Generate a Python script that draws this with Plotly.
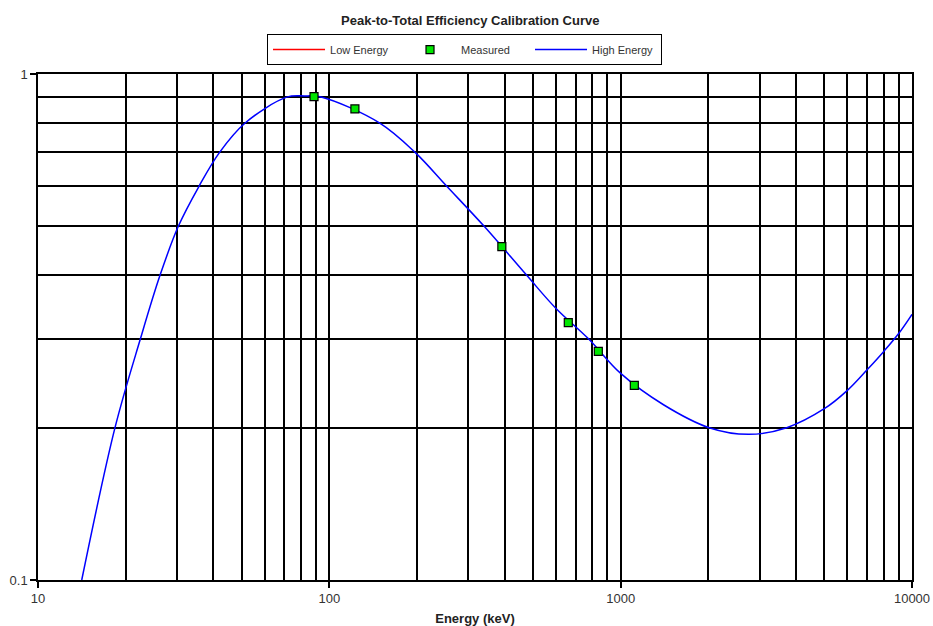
import plotly.graph_objects as go

# High-energy calibration curve (keV, peak-to-total efficiency)
curve_energy = [14.13, 18.38, 22.48, 26.23, 30.31, 35.7, 42.0, 51.4, 71.4, 82, 94.4,
                149, 197, 253, 340, 476, 600, 774, 1000, 1403, 2012, 2750, 3715,
                5000, 6000, 7000, 8000, 9000, 10000]
curve_eff = [0.100, 0.200, 0.300, 0.400, 0.500, 0.600, 0.700, 0.800, 0.900, 0.905, 0.900,
             0.800, 0.700, 0.600, 0.500, 0.400, 0.344, 0.300, 0.256, 0.222, 0.200, 0.194,
             0.200, 0.218, 0.237, 0.260, 0.283, 0.307, 0.335]

# Measured points
meas_energy = [88.6, 122.4, 391, 661, 838, 1114]
meas_eff = [0.902, 0.853, 0.456, 0.3225, 0.283, 0.2425]

x_major = [10, 100, 1000, 10000]
x_major_text = ["10", "100", "1000", "10000"]
y_major = [0.1, 1]
y_major_text = ["0.1", "1"]
x_minor = [m * d for d in (10, 100, 1000) for m in range(2, 10)]
y_minor = [m / 10 for m in range(2, 10)]

fig = go.Figure()
fig.add_trace(go.Scatter(x=[None], y=[None], mode="lines", name="Low Energy",
                         legendrank=1, line=dict(color="#ff0000", width=1.5)))
fig.add_trace(go.Scatter(x=curve_energy, y=curve_eff, mode="lines", name="High Energy",
                         legendrank=3,
                         line=dict(color="#0000ff", width=1.5, shape="spline", smoothing=1.0)))
fig.add_trace(go.Scatter(x=meas_energy, y=meas_eff, mode="markers", name="Measured",
                         legendrank=2,
                         marker=dict(symbol="square", size=8, color="#00e600",
                                     line=dict(color="#000000", width=1.2)),
                         cliponaxis=False))

font_family = "Liberation Sans, Arial, sans-serif"

fig.update_layout(
    width=933, height=626,
    margin=dict(l=38, r=21, t=74, b=46, autoexpand=False),
    paper_bgcolor="white", plot_bgcolor="white",
    font=dict(family=font_family, size=12, color="#333333"),
    title=dict(text="<b>Peak-to-Total Efficiency Calibration Curve</b>",
               x=0.504, xanchor="center", y=0.968, yanchor="middle",
               font=dict(family=font_family, size=13, color="#222222")),
    legend=dict(orientation="h", x=0.488, xanchor="center", y=1.079, yanchor="top",
                bordercolor="#000000", borderwidth=1, bgcolor="white",
                font=dict(family=font_family, size=11, color="#333333"),
                traceorder="normal", itemwidth=52, entrywidth=64),
    showlegend=True,
)

fig.update_xaxes(
    type="log", range=[1, 4], automargin=False,
    tickvals=x_major, ticktext=x_major_text,
    ticks="outside", ticklen=6, tickcolor="#000000", tickwidth=1.5,
    showgrid=True, gridcolor="#000000", gridwidth=1.5,
    minor=dict(tickvals=x_minor, showgrid=True, gridcolor="#000000", gridwidth=1.5, ticks=""),
    showline=True, linecolor="#000000", linewidth=1.5, mirror=True,
    zeroline=False,
    tickfont=dict(family=font_family, size=13, color="#333333"),
    title=dict(text="<b>Energy (keV)</b>", standoff=10,
               font=dict(family=font_family, size=13, color="#222222")),
)
fig.update_yaxes(
    type="log", range=[-1, 0], automargin=False,
    tickvals=y_major, ticktext=y_major_text,
    ticks="outside", ticklen=6, tickcolor="#000000", tickwidth=1.5,
    showgrid=True, gridcolor="#000000", gridwidth=1.5,
    minor=dict(tickvals=y_minor, showgrid=True, gridcolor="#000000", gridwidth=1.5, ticks=""),
    showline=True, linecolor="#000000", linewidth=1.5, mirror=True,
    zeroline=False,
    tickfont=dict(family=font_family, size=13, color="#333333"),
)

fig.write_html("out.html",
               config={"displayModeBar": False},
               post_script="document.body.style.margin='0px';document.body.style.overflow='hidden';")
